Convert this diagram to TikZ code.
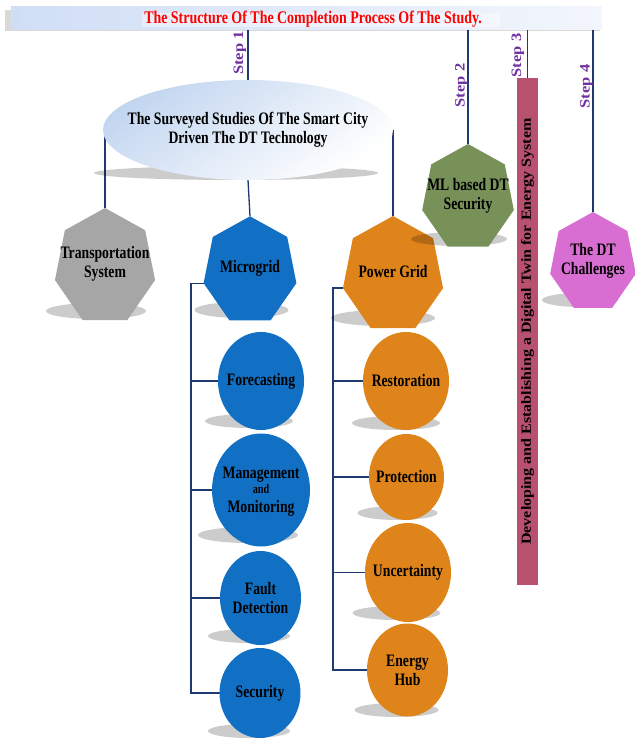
\documentclass[tikz,border=0pt]{standalone}
\usepackage{fontspec}
\setmainfont{Liberation Serif}[FakeStretch=0.9]
\newfontfamily\uprightserif{Liberation Serif}
\usetikzlibrary{shapes.geometric}
\pgfdeclarelayer{bg}
\pgfsetlayers{bg,main}

\definecolor{grayc}{HTML}{A6A6A6}
\definecolor{bluec}{HTML}{1270C4}
\definecolor{orangec}{HTML}{DF841B}
\definecolor{greenc}{HTML}{779159}
\definecolor{pinkc}{HTML}{D86ED1}
\definecolor{barc}{HTML}{B8516F}
\definecolor{linec}{HTML}{1F3A6E}
\definecolor{stepc}{HTML}{7030A0}
\definecolor{bannerl}{HTML}{D0DEF5}
\definecolor{bannerr}{HTML}{F3F6FC}
\definecolor{ellc}{HTML}{C3D6F0}

\tikzset{
  conn/.style={draw=linec, line width=1.3pt},
  shadowfill/.style={fill=black, opacity=0.2},
  txt/.style={font=\fontsize{17.5}{19}\selectfont\bfseries, align=center, inner sep=0},
  hepta/.style={regular polygon, regular polygon sides=7, inner sep=0, outer sep=0, fill=#1},
  disc/.style={ellipse, inner sep=0, outer sep=0, fill=#1},
  steplab/.style={rotate=90, text=stepc, inner sep=0,
                  font=\uprightserif\fontsize{16.5}{16.5}\selectfont\bfseries},
}

\begin{document}
\begin{tikzpicture}[x=1pt,y=-1pt]
\useasboundingbox (0,0) rectangle (634,741);
\begin{scope}[x=1.14943pt, xscale=0.87, transform shape]

% title banner
\fill[black,opacity=0.15] (5,10) rectangle (600,31);
\node[rectangle, minimum width=679.3, minimum height=23, inner sep=0,
      left color=bannerl, right color=bannerr] (banner) at (306.5,18.5) {};
\fill[white,opacity=0.4] (142,13) rectangle (500,27);
\node[font=\fontsize{17.8}{17.8}\selectfont\bfseries, text=red, anchor=base, inner sep=0]
  (title) at (313,23.5) {The Structure Of The Completion Process Of The Study.};

% central ellipse
\fill[shadowfill] (236,173) ellipse [x radius=142, y radius=7];
\node[ellipse, minimum width=333.3, minimum height=100, inner sep=0, outer sep=0,
      shading=axis, top color=ellc, bottom color=white, shading angle=35] (ell) at (248,130) {};
\node[txt] (ell-t) at (248,130) {The Surveyed Studies Of The Smart City\\Driven The DT Technology};

% heptagons
\fill[shadowfill] (96,311) ellipse [x radius=50, y radius=8];
\node[hepta=grayc, minimum size=118] (trans) at (105,267) {};
\node[txt] (trans-t) at (105,264) {Transportation\\System};

\fill[shadowfill] (241.5,310) ellipse [x radius=47, y radius=8];
\node[hepta=bluec, minimum size=109.4] (mg) at (250,271) {};
\node[txt] (mg-t) at (250,268) {Microgrid};

\fill[shadowfill] (383,318) ellipse [x radius=52, y radius=8];
\node[hepta=orangec, minimum size=118] (pg) at (393,275) {};
\node[txt] (pg-t) at (393,272) {Power Grid};

\fill[shadowfill] (459,239) ellipse [x radius=48, y radius=7];
\node[hepta=greenc, minimum size=108] (ml) at (468,198) {};
\node[txt] (ml-t) at (468,196) {ML based DT\\Security};

\fill[shadowfill] (580,300) ellipse [x radius=38, y radius=7];
\node[hepta=pinkc, minimum size=101] (dtc) at (593,262.5) {};
\node[txt] (dtc-t) at (593,261) {The DT\\Challenges};

% microgrid topics
\fill[shadowfill] (249,421) ellipse [x radius=44, y radius=7];
\node[disc=bluec, minimum width=98.9, minimum height=98] (fore) at (261,381) {};
\node[txt] (fore-t) at (261,381) {Forecasting};

\fill[shadowfill] (248,535) ellipse [x radius=50, y radius=8];
\node[disc=bluec, minimum width=112.6, minimum height=113] (mgmt) at (261,490) {};
\node[txt] (mgmt-t) at (261,492) {Management\\[-4pt]{\fontsize{13}{13}\selectfont and}\\Monitoring};

\fill[shadowfill] (249,636) ellipse [x radius=41, y radius=7];
\node[disc=bluec, minimum width=93.1, minimum height=94] (fault) at (260.5,598) {};
\node[txt] (fault-t) at (260.5,598) {Fault\\Detection};

\fill[shadowfill] (249,731) ellipse [x radius=41, y radius=7];
\node[disc=bluec, minimum width=93.1, minimum height=90] (sec) at (260,693) {};
\node[txt] (sec-t) at (260,693) {Security};

% power grid topics
\fill[shadowfill] (396,423) ellipse [x radius=44, y radius=7];
\node[disc=orangec, minimum width=98.9, minimum height=98] (rest) at (406,381) {};
\node[txt] (rest-t) at (406,381) {Restoration};

\fill[shadowfill] (397.5,513) ellipse [x radius=40, y radius=7];
\node[disc=orangec, minimum width=86.2, minimum height=86] (prot) at (406.5,477) {};
\node[txt] (prot-t) at (406.5,477) {Protection};

\fill[shadowfill] (396.5,613) ellipse [x radius=44, y radius=7];
\node[disc=orangec, minimum width=98.9, minimum height=99] (unc) at (408,572.5) {};
\node[txt] (unc-t) at (408,572.5) {Uncertainty};

\fill[shadowfill] (396.5,710) ellipse [x radius=42, y radius=7];
\node[disc=orangec, minimum width=93.1, minimum height=93] (hub) at (407.5,670) {};
\node[txt] (hub-t) at (407.5,670) {Energy\\Hub};

% step 3 bar
\node[rectangle, rotate=90, fill=barc, minimum width=507, minimum height=24.14, inner sep=0,
      font=\uprightserif\fontsize{16}{16}\selectfont\bfseries] (bar) at (527.5,331.5)
  {Developing and Establishing a Digital Twin for Energy System};

% step labels
\node[steplab] (s1) at (240,53) {Step 1};
\node[steplab] (s2) at (461.5,85.5) {Step 2};
\node[steplab] (s3) at (518,55.5) {Step 3};
\node[steplab] (s4) at (586.5,86.5) {Step 4};

% connectors
\begin{pgfonlayer}{bg}
  \draw[conn] (banner.south -| ell.north) -- (ell.north);
  \draw[conn] (banner.south -| ml.corner 1) -- (ml.corner 1);
  \draw[conn] (banner.south -| bar.east) -- (bar.east);
  \draw[conn] (banner.south -| dtc.corner 1) -- (dtc.corner 1);

  \draw[conn] (ell.west -| trans.corner 1) -- (trans.corner 1);
  \draw[conn] (ell.south) -- (mg.corner 1);
  \draw[conn] (ell.east -| pg.corner 1) -- (pg.corner 1);

  \coordinate (mgtrunk) at (191,283);
  \draw[conn] (mg.corner 3) -- (mg.corner 3 -| mgtrunk) |- (sec.west);
  \draw[conn] (mgtrunk |- fore.west) -- (fore.west);
  \draw[conn] (mgtrunk |- mgmt.west) -- (mgmt.west);
  \draw[conn] (mgtrunk |- fault.west) -- (fault.west);

  \coordinate (pgtrunk) at (333,288);
  \draw[conn] (pg.corner 3) -- (pg.corner 3 -| pgtrunk) |- (hub.west);
  \draw[conn] (pgtrunk |- rest.west) -- (rest.west);
  \draw[conn] (pgtrunk |- prot.west) -- (prot.west);
  \draw[conn] (pgtrunk |- unc.west) -- (unc.west);
\end{pgfonlayer}

\end{scope}
\end{tikzpicture}
\end{document}
